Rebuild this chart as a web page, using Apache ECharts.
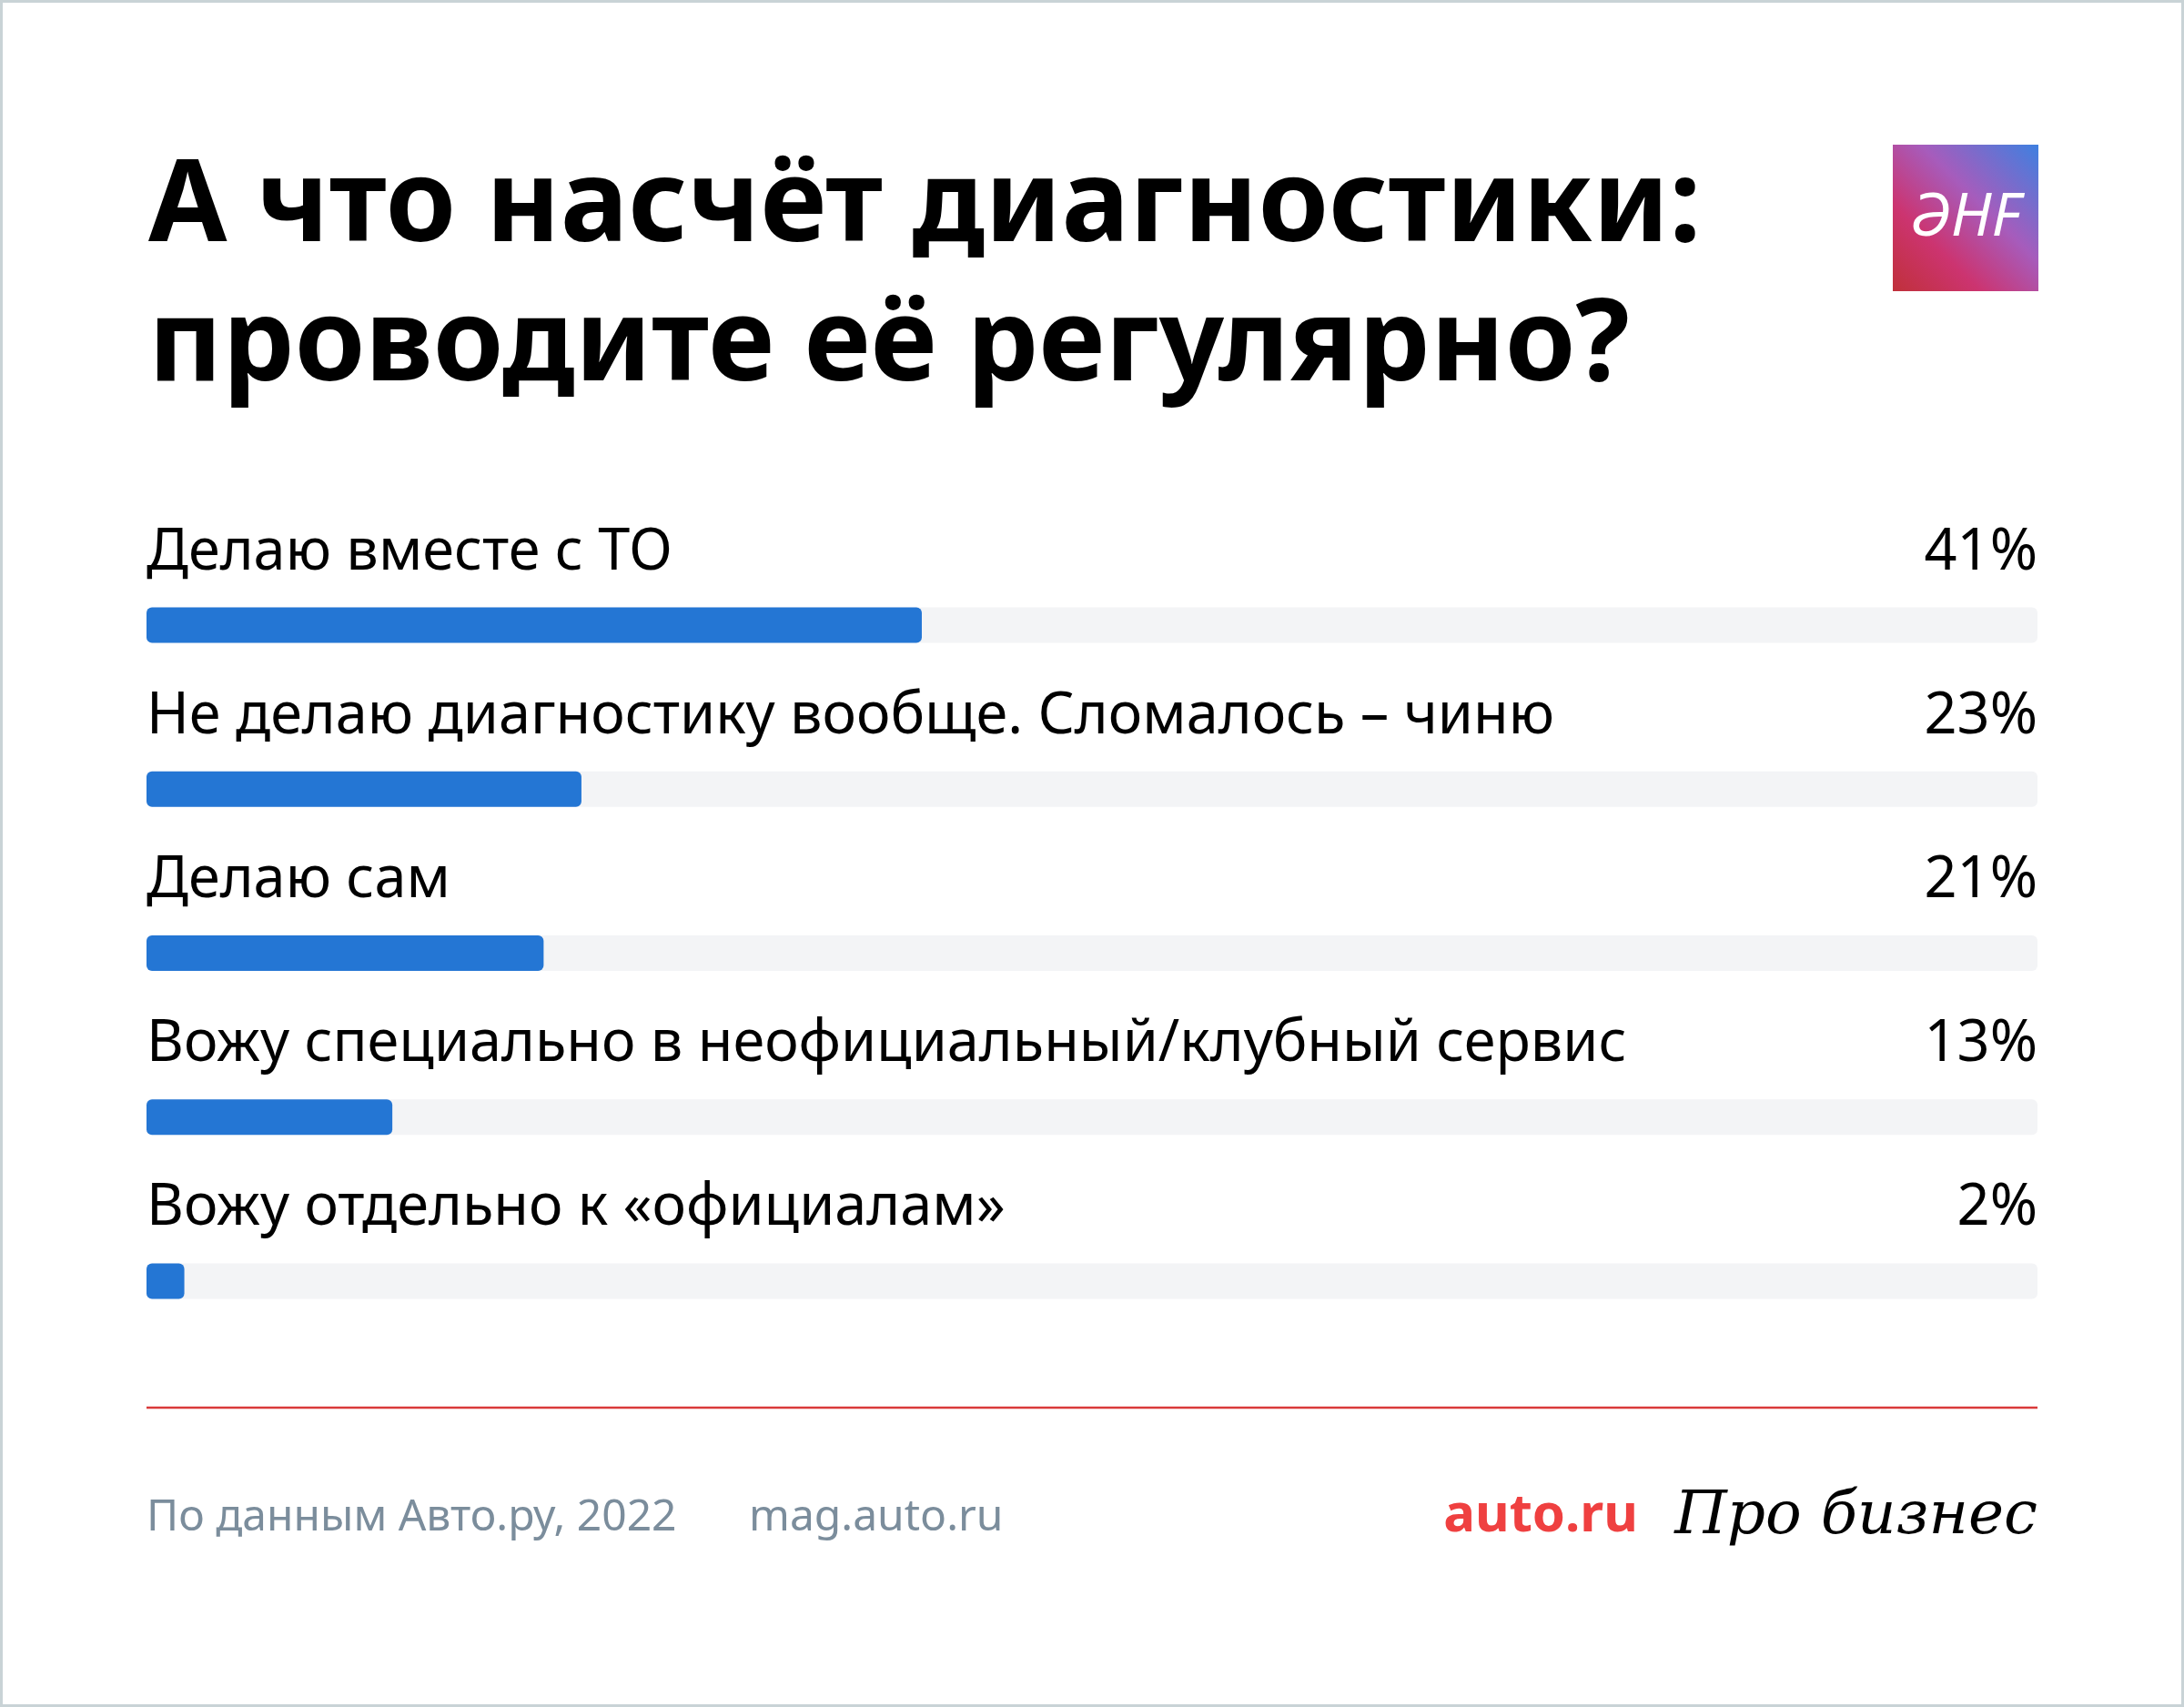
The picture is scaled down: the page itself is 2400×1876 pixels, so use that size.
<!DOCTYPE html>
<html><head><meta charset="utf-8">
<script src="https://cdn.jsdelivr.net/npm/echarts@6/dist/echarts.min.js"></script>
<style>html,body{margin:0;padding:0;background:#fff}#c{width:2400px;height:1876px}</style>
</head><body><div id="c"></div>
<script>
var titleText = 'А что насчёт диагностики:\nпроводите её регулярно?';
var categories = ['Делаю вместе с ТО', 'Не делаю диагностику вообще. Сломалось – чиню', 'Делаю сам', 'Вожу специально в неофициальный/клубный сервис', 'Вожу отдельно к «официалам»'];
var values = [41, 23, 21, 13, 2];
var trackMax = [100, 100, 100, 100, 100];
var sourceText = 'По данным Авто.ру, 2022';
var siteText = 'mag.auto.ru';

var F = '"Noto Sans", sans-serif';
var chart = echarts.init(document.getElementById('c'), null, {renderer: 'canvas'});
chart.setOption({
  backgroundColor: '#ffffff',
  animation: false,
  title: {
    text: titleText, left: 158, top: 148,
    textStyle: {fontFamily: F, fontSize: 125, fontWeight: 'bold', color: '#000', lineHeight: 153}
  },
  grid: {left: 161, right: 161, top: 597, bottom: 378},
  xAxis: {type: 'value', min: 0, max: 100, show: false},
  yAxis: {type: 'category', data: categories, inverse: true, show: false},
  series: [
    {type: 'bar', data: trackMax, barWidth: 39, silent: true,
     itemStyle: {color: '#f3f4f6', borderRadius: 6},
     label: {show: true, position: [0, -60], align: 'left', verticalAlign: 'middle',
       formatter: function (p) { return categories[p.dataIndex]; },
       fontFamily: F, fontSize: 63, color: '#000'}},
    {type: 'bar', data: values, barWidth: 39, barGap: '-100%', z: 3,
     itemStyle: {color: '#2476d4', borderRadius: 6}},
    {type: 'bar', data: trackMax, barWidth: 39, barGap: '-100%', z: 4, silent: true,
     itemStyle: {color: 'rgba(0,0,0,0)'},
     label: {show: true, position: ['100%', -60], align: 'right', verticalAlign: 'middle',
       formatter: function (p) { return values[p.dataIndex] + '%'; },
       fontFamily: F, fontSize: 63, color: '#000'}}
  ],
  graphic: [
    {type: 'rect', shape: {x: 1.5, y: 1.5, width: 2397, height: 1873}, style: {fill: null, stroke: '#c9d3d6', lineWidth: 3}, z: 100},
    {type: 'rect', shape: {x: 2080, y: 159, width: 160, height: 161},
     style: {fill: new echarts.graphic.LinearGradient(0, 1, 1, 0, [
       {offset: 0, color: '#c0303a'}, {offset: 0.3, color: '#cc3470'},
       {offset: 0.6, color: '#a65cbc'}, {offset: 1, color: '#3e80e0'}])}},
    {type: 'text', x: 2160, y: 240, style: {text: 'ƏHF', fill: '#fff', fontFamily: F, fontSize: 66, fontStyle: 'italic', align: 'center', verticalAlign: 'middle'}},
    {type: 'line', shape: {x1: 161, y1: 1547, x2: 2239, y2: 1547}, style: {stroke: '#d93a3a', lineWidth: 2.5}},
    {type: 'text', x: 161, y: 1668, style: {text: sourceText, fill: '#7b8d9c', fontFamily: F, fontSize: 48, verticalAlign: 'middle'}},
    {type: 'text', x: 823, y: 1668, style: {text: siteText, fill: '#7b8d9c', fontFamily: F, fontSize: 48, verticalAlign: 'middle'}},
    {type: 'text', x: 1800, y: 1666, style: {text: 'auto.ru', fill: '#ef4040', fontFamily: F, fontSize: 58, fontWeight: 'bold', align: 'right', verticalAlign: 'middle'}},
    {type: 'text', x: 2239, y: 1668, style: {text: 'Про бизнес', fill: '#000', fontFamily: '"DejaVu Serif", serif', fontSize: 66, fontStyle: 'italic', align: 'right', verticalAlign: 'middle'}}
  ]
});
</script></body></html>
